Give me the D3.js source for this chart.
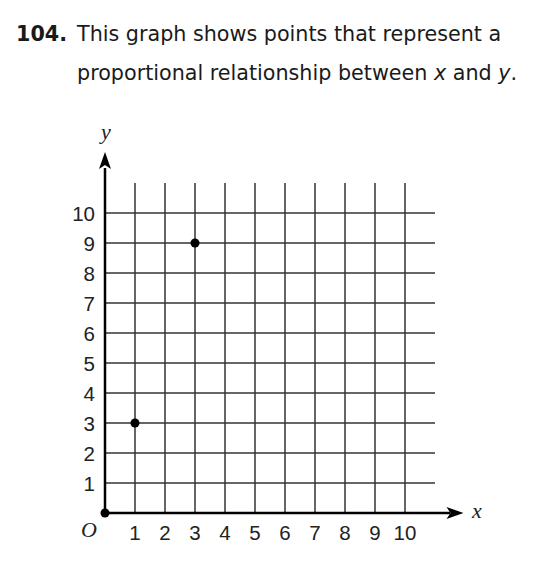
<!DOCTYPE html>
<html><head><meta charset="utf-8">
<script src="https://cdn.jsdelivr.net/npm/d3@7"></script>
<style>body{margin:0;background:#fff;}svg{display:block;}</style>
</head><body>
<script>
const xTicks = [1,2,3,4,5,6,7,8,9,10];
const yTicks = [1,2,3,4,5,6,7,8,9,10];
const pointsX = [1,3];
const pointsY = [3,9];
const titleNum = "104.";
const titleLine1 = "This graph shows points that represent a";

const W = 540, H = 570;
const svg = d3.select("body").append("svg").attr("width", W).attr("height", H);

const x = d3.scaleLinear().domain([0, 11]).range([105, 435]);
const y = d3.scaleLinear().domain([0, 11]).range([513, 183]);

// Title
const tf = "'DejaVu Sans', Verdana, sans-serif";
const tfs = 20.7;
svg.append("text").attr("x", 16).attr("y", 41).attr("font-family", tf)
  .attr("font-size", tfs).attr("font-weight", "bold").attr("fill", "#1a1a1a").text(titleNum);
svg.append("text").attr("x", 77).attr("y", 41).attr("font-family", tf)
  .attr("font-size", tfs).attr("fill", "#1a1a1a").text(titleLine1);
const t2 = svg.append("text").attr("x", 77).attr("y", 80).attr("font-family", tf)
  .attr("font-size", tfs).attr("fill", "#1a1a1a");
t2.append("tspan").text("proportional relationship between ");
t2.append("tspan").attr("font-style", "italic").text("x");
t2.append("tspan").text(" and ");
t2.append("tspan").attr("font-style", "italic").text("y");
t2.append("tspan").text(".");

// Grid
const g = svg.append("g");
g.selectAll("line.v").data(xTicks).join("line")
  .attr("x1", d => x(d)).attr("x2", d => x(d))
  .attr("y1", y(0)).attr("y2", y(11))
  .attr("stroke", "#333").attr("stroke-width", 1.5);
g.selectAll("line.h").data(yTicks).join("line")
  .attr("y1", d => y(d)).attr("y2", d => y(d))
  .attr("x1", x(0)).attr("x2", x(11))
  .attr("stroke", "#333").attr("stroke-width", 1.5);

// Axes
svg.append("line").attr("x1", x(0)).attr("x2", x(11.5)).attr("y1", y(0)).attr("y2", y(0))
  .attr("stroke", "#000").attr("stroke-width", 2.5);
svg.append("line").attr("x1", x(0)).attr("x2", x(0)).attr("y1", y(0)).attr("y2", y(11.5))
  .attr("stroke", "#000").attr("stroke-width", 2.5);
// arrowheads
const xt = x(11.95), yt = y(0);
svg.append("path").attr("d", `M${xt},${yt} L${xt-17},${yt-6} L${xt-13},${yt} L${xt-17},${yt+6} Z`).attr("fill", "#000");
const ax = x(0), ay = y(12.03);
svg.append("path").attr("d", `M${ax},${ay} L${ax-6},${ay+17} L${ax},${ay+13} L${ax+6},${ay+17} Z`).attr("fill", "#000");

// Tick labels
const lf = "'Liberation Sans', Arial, sans-serif";
const lfs = 20.5;
svg.selectAll("text.xt").data(xTicks).join("text")
  .attr("x", d => x(d)).attr("y", y(0) + 27).attr("text-anchor", "middle")
  .attr("font-family", lf).attr("font-size", lfs).attr("fill", "#222").text(d => d);
svg.selectAll("text.yt").data(yTicks).join("text")
  .attr("x", 95).attr("y", d => y(d) + 7.5).attr("text-anchor", "end")
  .attr("font-family", lf).attr("font-size", lfs).attr("fill", "#222").text(d => d);

// Axis labels
const sf = "'Liberation Serif', 'DejaVu Serif', serif";
svg.append("text").attr("x", 89).attr("y", y(0) + 24).attr("text-anchor", "middle")
  .attr("font-family", sf).attr("font-style", "italic").attr("font-size", 22).attr("fill", "#222").text("O");
svg.append("text").attr("x", 477).attr("y", y(0) + 5).attr("text-anchor", "middle")
  .attr("font-family", sf).attr("font-style", "italic").attr("font-size", 22).attr("fill", "#222").text("x");
svg.append("text").attr("x", 106).attr("y", 139).attr("text-anchor", "middle")
  .attr("font-family", sf).attr("font-style", "italic").attr("font-size", 22).attr("fill", "#222").text("y");

// Points
svg.append("circle").attr("cx", x(0)).attr("cy", y(0)).attr("r", 4.5).attr("fill", "#000");
svg.selectAll("circle.p").data(pointsX).join("circle")
  .attr("cx", d => x(d)).attr("cy", (d, i) => y(pointsY[i])).attr("r", 4.5).attr("fill", "#000");
</script>
</body></html>
